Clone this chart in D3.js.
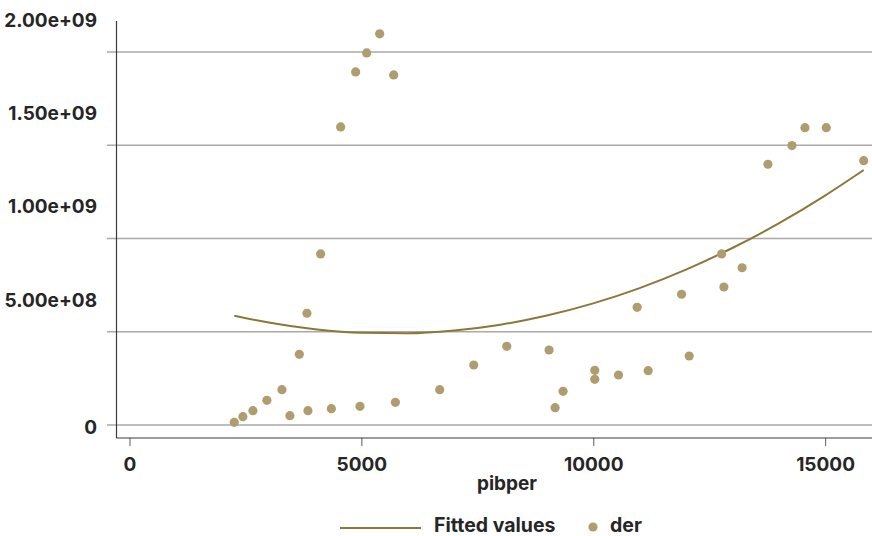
<!DOCTYPE html>
<html>
<head>
<meta charset="utf-8">
<script src="https://cdn.jsdelivr.net/npm/d3@7/dist/d3.min.js"></script>
<style>
  html, body { margin: 0; padding: 0; background: #fff; }
  svg text { font-family: Inter, "Noto Sans", sans-serif; font-weight: 700; fill: #262626; }
</style>
</head>
<body>
<svg id="chart" width="872" height="536"></svg>
<script>
// ---- data ----
const pibper = [2259, 2445, 2661, 2963, 3287, 3459, 3662, 3826, 3848, 4122, 4353, 4553, 4877, 4970, 5114, 5395, 5697, 5734,
  6690, 7423, 8136, 9048, 9178, 9350, 10034, 10034, 10546, 10947, 11185, 11905, 12070, 12769, 12818, 13211, 13768, 14286,
  14566, 15026, 15833];
const der = [1.45e7, 4.45e7, 7.67e7, 1.324e8, 1.893e8, 4.99e7, 3.79e8, 5.99e8, 7.67e7, 9.17e8, 8.74e7, 1.598e9, 1.893e9, 1.003e8,
  1.995e9, 2.097e9, 1.877e9, 1.217e8, 1.893e8, 3.217e8, 4.22e8, 4.02e8, 9.28e7, 1.807e8, 2.933e8, 2.45e8, 2.681e8, 6.31e8,
  2.912e8, 7.01e8, 3.70e8, 9.17e8, 7.40e8, 8.43e8, 1.398e9, 1.498e9, 1.594e9, 1.594e9, 1.417e9];
const fitX = [2259, 3000, 4000, 5000, 6000, 7000, 8000, 9000, 10000, 11000, 12000, 13000, 14000, 15000, 15833];
const fitY = [5.86e8, 5.49e8, 5.13e8, 4.94e8, 4.92e8, 5.07e8, 5.38e8, 5.87e8, 6.52e8, 7.34e8, 8.33e8, 9.49e8, 1.081e9, 1.230e9, 1.367e9];
const yTicks = [0, 5e8, 1e9, 1.5e9, 2e9];
const yTickLabels = ["0", "5.00e+08", "1.00e+09", "1.50e+09", "2.00e+09"];
const xTicks = [0, 5000, 10000, 15000];
const xTickLabels = ["0", "5000", "10000", "15000"];
const legendLabels = ["Fitted values", "der"];
const xTitle = "pibper";

(function () {
// ---- layout ----
const svg = d3.select("#chart");
const pL = 116.5, pR = 872, pT = 21, pB = 438;
const x = d3.scaleLinear().domain([-280.5, 16012]).range([pL, pR]);
const y = d3.scaleLinear().domain([-6.97e7, 2.166e9]).range([pB, pT]);
const pointColor = "#b09d6f", lineColor = "#8c7638";
const fontFam = "Inter, sans-serif";

// gridlines (with left tick extension)
svg.append("g").selectAll("line").data(yTicks).join("line")
  .attr("x1", 107).attr("x2", pR)
  .attr("y1", d => y(d)).attr("y2", d => y(d))
  .attr("stroke", "#a9a9a9").attr("stroke-width", 1.5);

// y axis
const yAxis = d3.axisLeft(y).tickValues(yTicks).tickSize(0).tickPadding(0)
  .tickFormat((d, i) => yTickLabels[i]);
const gy = svg.append("g").attr("transform", `translate(${pL},0)`).call(yAxis);
gy.select(".domain").remove();
gy.selectAll(".tick text")
  .attr("x", 97 - pL)
  .attr("dy", null)
  .attr("y", d => d === 0 ? 8.3 : -25.5)
  .style("font-size", "19px").style("font-family", fontFam).style("font-weight", 700)
  .attr("fill", "#262626");
svg.append("line").attr("x1", pL).attr("x2", pL).attr("y1", pT).attr("y2", pB)
  .attr("stroke", "#3a3a3a").attr("stroke-width", 1.2);

// x axis
const xAxis = d3.axisBottom(x).tickValues(xTicks).tickSize(8).tickPadding(10)
  .tickFormat((d, i) => xTickLabels[i]);
const gx = svg.append("g").attr("transform", `translate(0,${pB})`).call(xAxis);
gx.select(".domain").remove();
gx.selectAll(".tick line").attr("stroke", "#777").attr("stroke-width", 1.2);
gx.selectAll(".tick text")
  .attr("dy", null).attr("y", 33)
  .style("font-size", "19px").style("font-family", fontFam).style("font-weight", 700)
  .attr("fill", "#262626");
svg.append("line").attr("x1", pL).attr("x2", pR).attr("y1", pB).attr("y2", pB)
  .attr("stroke", "#3a3a3a").attr("stroke-width", 1.2);

// x title
svg.append("text").attr("x", 507).attr("y", 490).attr("text-anchor", "middle")
  .style("font-size", "19px").text(xTitle);

// fitted line
const line = d3.line().x((d, i) => x(fitX[i])).y(d => y(d)).curve(d3.curveMonotoneX);
svg.append("path").datum(fitY).attr("d", line)
  .attr("fill", "none").attr("stroke", lineColor).attr("stroke-width", 2);

// points
svg.append("g").selectAll("circle").data(der).join("circle")
  .attr("cx", (d, i) => x(pibper[i])).attr("cy", d => y(d)).attr("r", 4.6)
  .attr("fill", pointColor);

// legend
const lg = svg.append("g");
lg.append("line").attr("x1", 340).attr("x2", 421).attr("y1", 528).attr("y2", 528)
  .attr("stroke", lineColor).attr("stroke-width", 2);
lg.append("text").attr("x", 434).attr("y", 532).style("font-size", "19.5px").text(legendLabels[0]);
lg.append("circle").attr("cx", 593).attr("cy", 527).attr("r", 4.6).attr("fill", pointColor);
lg.append("text").attr("x", 610).attr("y", 532).style("font-size", "19.5px").text(legendLabels[1]);
})();
</script>
</body>
</html>
